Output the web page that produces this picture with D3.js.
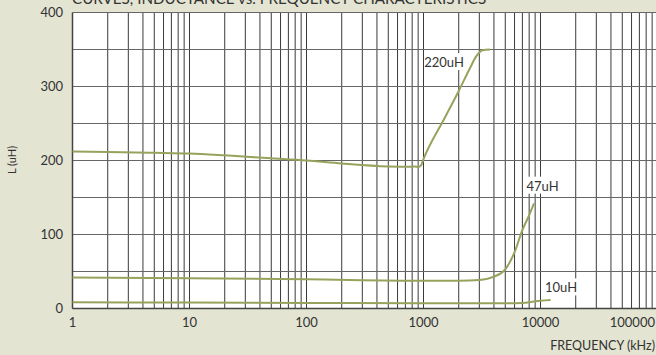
<!DOCTYPE html>
<html><head><meta charset="utf-8">
<script src="https://cdn.jsdelivr.net/npm/d3@7"></script>
<style>
html,body{margin:0;padding:0;background:#e3e4d2;}
svg{display:block;}
text{font-family:"Lato","Open Sans",sans-serif;fill:#333;}
</style></head><body>
<svg id="c" width="656" height="355"></svg>
<script>
const title = "CURVES, INDUCTANCE vs. FREQUENCY CHARACTERISTICS";
const xTickLabels = [1, 10, 100, 1000, 10000, 100000];
const yTickLabels = [0, 100, 200, 300, 400];
const yGrid = [0, 50, 100, 150, 200, 250, 300, 350, 400];

const freq220 = [1, 2, 5, 10, 20, 50, 100, 200, 500, 800, 850, 900, 950, 1000, 1500, 2000, 2500, 2800, 3000, 3200, 3700];
const l220    = [212, 211.5, 210.5, 209.5, 207, 203, 200, 196, 192, 191.5, 192, 191, 193, 202, 256, 294, 325, 340, 346, 349, 350];

const freq47 = [1, 10, 100, 1000, 2000, 3000, 4000, 5000, 6000, 7000, 8000, 8800];
const l47    = [42, 41, 39.5, 37.5, 37.5, 38.5, 43, 53, 76, 106, 126, 142];

const freq10 = [1, 10, 100, 1000, 5000, 7000, 8500, 10000, 12200];
const l10    = [8.5, 8, 7.5, 7, 7, 7.5, 9, 10.5, 11.5];

const labels = [
  {text: "220uH", f: 1500, l: 333},
  {text: "47uH", f: 10400, l: 166},
  {text: "10uH", f: 15000, l: 28.5}
];

(function () {
const svg = d3.select("#c");
const mLeft = 72.5, mTop = 12.5, mBottom = 308.5;
const x = d3.scaleLog().domain([1, 100000]).range([mLeft, mLeft + 5 * 117]);
const y = d3.scaleLinear().domain([0, 400]).range([mBottom, mTop]);
const xMax = 1e6;
const xRight = x(100000) + 117;

svg.append("rect").attr("x", mLeft).attr("y", mTop)
  .attr("width", xRight - mLeft).attr("height", mBottom - mTop).attr("fill", "#fff");

const vGrid = [];
for (let d = 1; d < xMax; d *= 10) for (let k = 1; k <= 9; k++) vGrid.push(d * k);
svg.append("g").selectAll("line").data(vGrid.filter(v => v > 1)).join("line")
  .attr("x1", d => x(d)).attr("x2", d => x(d))
  .attr("y1", mTop).attr("y2", mBottom)
  .attr("stroke", "#3a3a3a").attr("stroke-width", 1);

svg.append("g").selectAll("line").data(yGrid).join("line")
  .attr("x1", mLeft).attr("x2", xRight)
  .attr("y1", d => y(d)).attr("y2", d => y(d))
  .attr("stroke", "#666").attr("stroke-width", 1.2);

svg.append("line").attr("x1", mLeft).attr("x2", mLeft).attr("y1", mTop).attr("y2", mBottom)
  .attr("stroke", "#444").attr("stroke-width", 1.5);
svg.append("line").attr("x1", mLeft).attr("x2", xRight).attr("y1", mBottom).attr("y2", mBottom)
  .attr("stroke", "#444").attr("stroke-width", 1.5);

const line = d3.line().x(d => x(d[0])).y(d => y(d[1])).curve(d3.curveMonotoneX);
const series = [[freq220, l220], [freq47, l47], [freq10, l10]];
svg.append("g").selectAll("path").data(series).join("path")
  .attr("d", s => line(s[0].map((f, i) => [f, s[1][i]])))
  .attr("fill", "none").attr("stroke", "#98a25c").attr("stroke-width", 2);

const lg = svg.append("g").selectAll("g").data(labels).join("g");
lg.append("rect")
  .attr("x", d => x(d.f) - 19).attr("y", d => y(d.l) - 9)
  .attr("width", 38).attr("height", 17).attr("fill", "#fff");
lg.append("text").attr("x", d => x(d.f)).attr("y", d => y(d.l) + 5)
  .attr("text-anchor", "middle").attr("font-size", 13).text(d => d.text);

svg.append("g").selectAll("text").data(yTickLabels).join("text")
  .attr("x", 63).attr("y", d => y(d) + 4.5).attr("text-anchor", "end")
  .attr("font-size", 13).text(d => d);
svg.append("g").selectAll("text").data(xTickLabels).join("text")
  .attr("x", d => Math.min(x(d), 655)).attr("y", 327)
  .attr("text-anchor", d => x(d) > 640 ? "end" : "middle")
  .attr("font-size", 13).text(d => d);

svg.append("text").attr("transform", "translate(16,160) rotate(-90)")
  .attr("text-anchor", "middle").attr("font-size", 11).text("L (uH)");
svg.append("text").attr("x", 655).attr("y", 350).attr("text-anchor", "end")
  .attr("font-size", 12.5).text("FREQUENCY (kHz)");
svg.append("text").attr("x", 72).attr("y", 3.5).attr("font-size", 15.2).text(title);
})();
</script></body></html>
